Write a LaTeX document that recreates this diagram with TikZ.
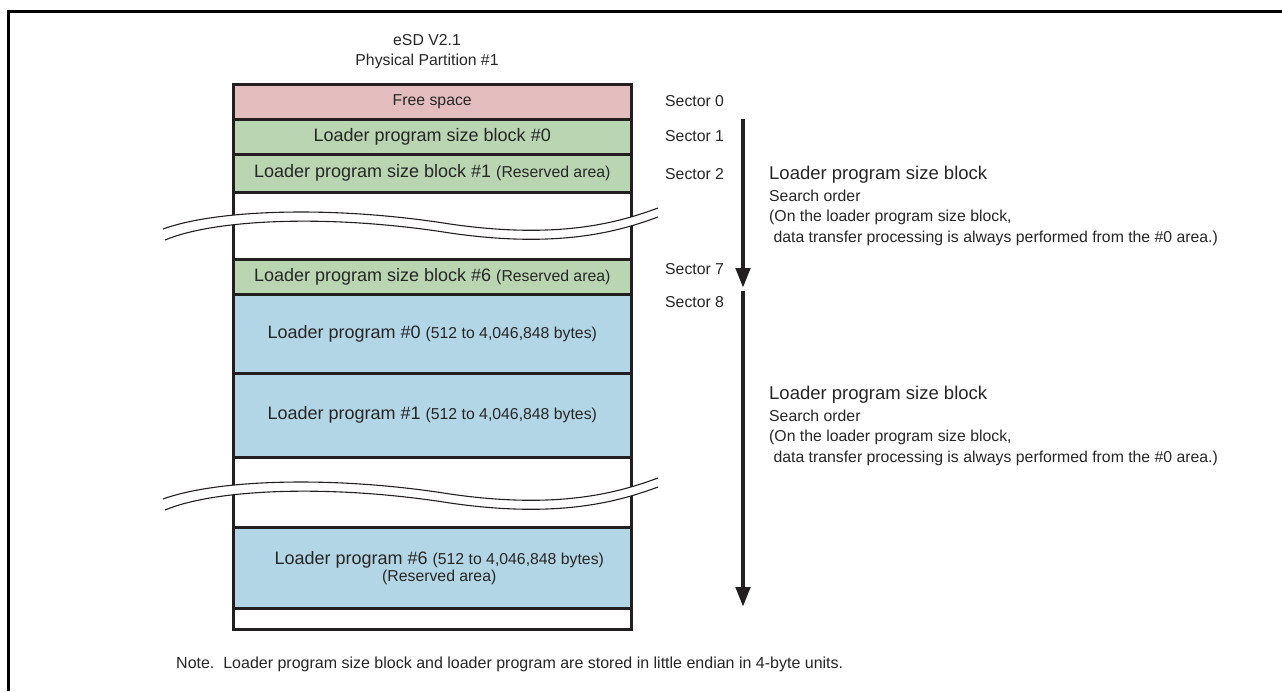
\documentclass[tikz,border=0pt]{standalone}
\usepackage{fontspec}
\setmainfont{Liberation Sans}
\usetikzlibrary{arrows.meta}
\definecolor{edge}{HTML}{231F20}
\definecolor{pinkfill}{HTML}{E4BEBF}
\definecolor{greenfill}{HTML}{B9D5B1}
\definecolor{bluefill}{HTML}{B3D6E6}
\newcommand{\fbig}{\fontsize{18}{20}\selectfont}
\newcommand{\fsmall}{\fontsize{15.8}{18}\selectfont}
\newcommand{\fhead}{\fontsize{18.5}{21}\selectfont}
\newcommand{\fnote}{\fontsize{16}{19}\selectfont}
\tikzset{
  memblock/.style={draw=edge, line width=2.5pt, anchor=north west, inner sep=0pt,
    minimum width=398pt, text=black!85},
  sectorlbl/.style={anchor=west, inner sep=0pt, font=\fsmall, text=black!85},
  desc/.style={anchor=base west, inner sep=0pt, text=black!85},
  orderarrow/.style={draw=edge, line width=4.5pt, -{Triangle[width=14pt,length=20pt]}},
  breakline/.style={draw=edge, line width=1.1pt},
}
\begin{document}
\begin{tikzpicture}[x=1pt,y=-1pt]
\useasboundingbox (0,0) rectangle (1282,691);
% outer frame
\draw[line width=3pt] (8,691) -- (8,11) -- (1282,11);
% title
\node[align=center, font=\fsmall, text=black!85, inner sep=0pt] (title) at (427,52) {eSD V2.1\\[2pt]Physical Partition \#1};
% memory column
\node[memblock, fill=pinkfill, minimum height=35pt] (free) at (232,83) {\fsmall Free space};
\node[memblock, fill=greenfill, minimum height=35pt] (b0) at (232,118) {\fbig Loader program size block \#0};
\node[memblock, fill=greenfill, minimum height=38pt] (b1) at (232,153) {\fbig Loader program size block \#1 \fsmall(Reserved area)};
\node[memblock, fill=white, minimum height=67pt] (gap1) at (232,191) {};
\node[memblock, fill=greenfill, minimum height=35pt] (b6) at (232,258) {\fbig Loader program size block \#6 \fsmall(Reserved area)};
\node[memblock, fill=bluefill, minimum height=79pt] (lp0) at (232,293) {\fbig Loader program \#0 \fsmall(512 to 4,046,848 bytes)};
\node[memblock, fill=bluefill, minimum height=84pt] (lp1) at (232,372) {\fbig Loader program \#1 \fsmall(512 to 4,046,848 bytes)};
\node[memblock, fill=white, minimum height=70pt] (gap2) at (232,456) {};
\node[memblock, fill=bluefill, minimum height=81pt, align=center] (lp6) at (232,526) {\hspace*{14pt}\fbig Loader program \#6 \fsmall(512 to 4,046,848 bytes)\\[1pt]\hspace*{14pt}\fsmall(Reserved area)};
\node[memblock, fill=white, minimum height=21pt] (tail) at (232,607) {};
% break marks
\foreach \dy in {0,270}{
\begin{scope}[yshift=-\dy pt]
\path[fill=white] (163,229) .. controls (215,210) and (330,205) .. (450,224) .. controls (560,240) and (620,222) .. (658,208)
  -- (658,217) .. controls (620,231) and (560,249) .. (450,233) .. controls (330,214) and (215,219) .. (165,240) -- cycle;
\draw[breakline] (163,229) .. controls (215,210) and (330,205) .. (450,224) .. controls (560,240) and (620,222) .. (658,208);
\draw[breakline] (165,240) .. controls (215,219) and (330,214) .. (450,233) .. controls (560,249) and (620,231) .. (658,217);
\end{scope}
}
% sector labels
\node[sectorlbl] (s0) at (665,101) {Sector 0};
\node[sectorlbl] (s1) at (665,136) {Sector 1};
\node[sectorlbl] (s2) at (665,174) {Sector 2};
\node[sectorlbl] (s7) at (665,269) {Sector 7};
\node[sectorlbl] (s8) at (665,302) {Sector 8};
% arrows
\coordinate (a1s) at (743,119);
\coordinate (a1e) at (743,288);
\coordinate (a2s) at (743,291);
\coordinate (a2e) at (743,607);
\draw[orderarrow] (a1s) -- (a1e);
\draw[orderarrow] (a2s) -- (a2e);
% descriptions
\foreach \dy/\nm in {0/d1,220/d2}{
\node[desc, font=\fhead] (\nm h) at (769,179+\dy) {Loader program size block};
\node[desc, font=\fsmall] (\nm a) at (769,201+\dy) {Search order};
\node[desc, font=\fsmall] (\nm b) at (769,221+\dy) {(On the loader program size block,};
\node[desc, font=\fsmall] (\nm c) at (769,242+\dy) {\ data transfer processing is always performed from the \#0 area.)};
}
% note
\node[desc, font=\fnote] (note) at (176,668) {Note.\ \ Loader program size block and loader program are stored in little endian in 4-byte units.};
\end{tikzpicture}
\end{document}
